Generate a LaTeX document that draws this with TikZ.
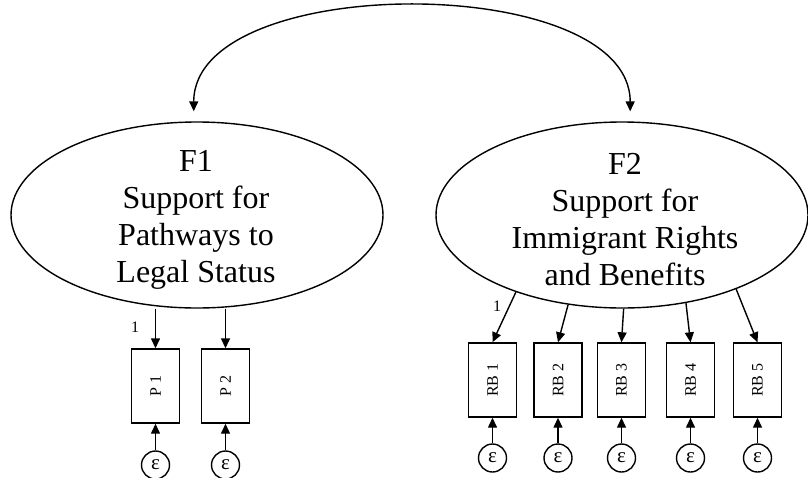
\documentclass[tikz,border=0pt]{standalone}
\usepackage{fontspec}
\setmainfont{Liberation Serif}
\usepackage{graphicx}
\usetikzlibrary{shapes.geometric,arrows.meta}
\newcommand{\vlab}[1]{\rotatebox{90}{#1}}
\begin{document}
\begin{tikzpicture}[x=1pt,y=-1pt,line width=1.4pt,>={Triangle[length=10pt,width=9pt]},
        f/.style={ellipse,draw,minimum width=372pt,minimum height=186pt,inner sep=0pt},
        ftext/.style={align=center,font=\fontsize{32}{37}\selectfont},
        obs/.style={rectangle,draw,minimum width=48pt,minimum height=74pt,inner sep=0pt,font=\fontsize{16}{16}\selectfont},
        err/.style={circle,draw,minimum size=28pt,inner sep=0pt,font=\fontsize{21}{21}\selectfont},
        one/.style={font=\fontsize{16}{16}\selectfont}]
                \useasboundingbox (0,0) rectangle (808,477);

                \node[f] (f1) at (197,215) {};
                \node[f] (f2) at (622,215) {};
                \node[ftext] (t1) at (196,220) {F1\\Support for\\Pathways to\\Legal Status};
                \node[ftext] (t2) at (625,220) {F2\\Support for\\Immigrant Rights\\and Benefits};

                \node[obs] (p1) at (155.5,386) {\vlab{P 1}};
                \node[obs] (p2) at (225.5,386) {\vlab{P 2}};
                \node[obs] (rb1) at (492.5,380) {\vlab{RB 1}};
                \node[obs] (rb2) at (558,380) {\vlab{RB 2}};
                \node[obs] (rb3) at (621.5,380) {\vlab{RB 3}};
                \node[obs] (rb4) at (690.5,380) {\vlab{RB 4}};
                \node[obs] (rb5) at (757.5,380) {\vlab{RB 5}};

                \node[err] (ep1) at (155.5,465) {ε};
                \node[err] (ep2) at (225.5,465) {ε};
                \node[err] (erb1) at (492.5,458) {ε};
                \node[err] (erb2) at (558,458) {ε};
                \node[err] (erb3) at (621.5,458) {ε};
                \node[err] (erb4) at (690.5,458) {ε};
                \node[err] (erb5) at (757.5,458) {ε};

                \node[one] (l1) at (135,327) {1};
                \node[one] (l2) at (497,306) {1};

                \draw[<->,shorten <=10pt,shorten >=10pt] (f1.92) .. controls ([yshift=150pt]f1.92) and ([yshift=150pt]f2.85) .. (f2.85);

                \draw[->] (p1.north |- f1.south) -- (p1);
                \draw[->] (p2.north |- f1.south) -- (p2);

                \draw[->] (f2.216) -- (rb1.north);
                \draw[->] (f2.239) -- (rb2.north);
                \draw[->] (f2.271) -- (rb3.north);
                \draw[->] (f2.306) -- (rb4.north);
                \draw[->] (f2.327) -- (rb5.north);

                \draw[->] (ep1) -- (p1);
                \draw[->] (ep2) -- (p2);
                \draw[->] (erb1) -- (rb1);
                \draw[->] (erb2) -- (rb2);
                \draw[->] (erb3) -- (rb3);
                \draw[->] (erb4) -- (rb4);
                \draw[->] (erb5) -- (rb5);
            \end{tikzpicture}
\end{document}
